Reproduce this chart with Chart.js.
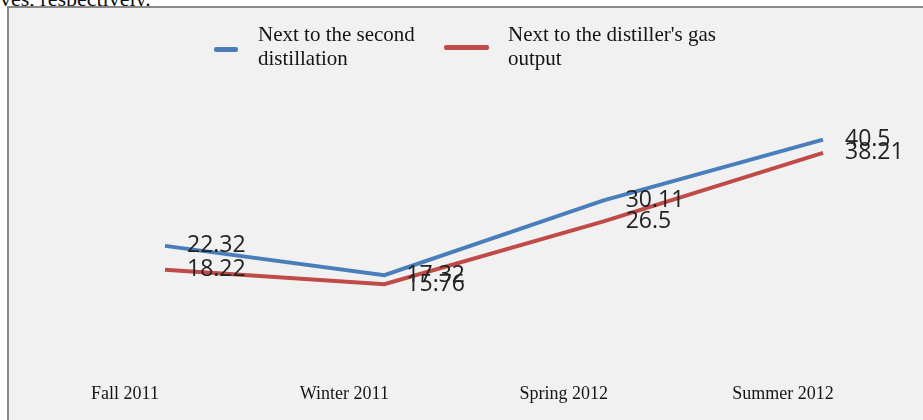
<!DOCTYPE html>
<html lang="en">
<head>
    <meta charset="UTF-8">
    <title>Distillation Chart</title>
    <script src="https://cdn.jsdelivr.net/npm/chart.js"></script>
    <style>
        html, body {
            margin: 0;
            width: 923px;
            height: 420px;
            overflow: hidden;
            background-color: #ffffff;
            position: relative;
        }
        #caption {
            position: absolute;
            left: 0;
            top: -14px;
            font-family: 'Liberation Serif', serif;
            font-size: 22px;
            color: #111;
            white-space: nowrap;
        }
        #frame {
            position: absolute;
            left: 7px;
            top: 6px;
            width: 916px;
            height: 414px;
            background-color: #f1f1f1;
            border-left: 2px solid #8a8a8a;
            border-top: 2px solid #8a8a8a;
        }
        #chart {
            position: absolute;
            left: 0;
            top: 0;
        }
        .legend-item {
            position: absolute;
            font-family: 'Liberation Serif', serif;
            font-size: 21px;
            line-height: 24px;
            color: #151515;
        }
        .legend-swatch {
            position: absolute;
            height: 5px;
            border-radius: 2px;
        }
    </style>
</head>
<body>

<div id="caption">ves, respectively.</div>
<div id="frame"></div>
<canvas id="chart" width="923" height="420"></canvas>
<div id="legend"></div>

<script>
const seasons = ['Fall 2011', 'Winter 2011', 'Spring 2012', 'Summer 2012'];
const secondDistillation = [22.32, 17.32, 30.11, 40.5];
const distillerGasOutput = [18.22, 15.76, 26.5, 38.21];
const seriesNames = [
    ['Next to the second', 'distillation'],
    ["Next to the distiller's gas", 'output']
];
const seriesColors = ['#4a7ebb', '#be4b48'];

// value labels to the right of each point
const pointLabels = {
    id: 'pointLabels',
    afterDatasetsDraw(chart) {
        const ctx = chart.ctx;
        ctx.save();
        ctx.font = '23px "Open Sans", sans-serif';
        ctx.fillStyle = '#222';
        ctx.textAlign = 'left';
        ctx.textBaseline = 'middle';
        chart.data.datasets.forEach((ds, i) => {
            chart.getDatasetMeta(i).data.forEach((pt, j) => {
                ctx.fillText(String(ds.data[j]), pt.x + 22, pt.y);
            });
        });
        ctx.restore();
    }
};

const chart = new Chart(document.getElementById('chart'), {
    type: 'line',
    data: {
        labels: seasons,
        datasets: [
            {
                label: seriesNames[0].join(' '),
                data: secondDistillation,
                borderColor: seriesColors[0],
                borderWidth: 4,
                pointRadius: 0,
                tension: 0
            },
            {
                label: seriesNames[1].join(' '),
                data: distillerGasOutput,
                borderColor: seriesColors[1],
                borderWidth: 4,
                pointRadius: 0,
                tension: 0
            }
        ]
    },
    options: {
        responsive: false,
        animation: false,
        devicePixelRatio: 1,
        layout: {
            padding: { left: 165, right: 100, top: 84, bottom: 8 }
        },
        plugins: {
            legend: { display: false },
            tooltip: { enabled: false }
        },
        scales: {
            x: {
                offset: false,
                grid: { display: false, drawTicks: false },
                border: { display: false },
                ticks: {
                    padding: 7,
                    labelOffset: -40,
                    maxRotation: 0,
                    color: '#151515',
                    font: { family: 'Liberation Serif', size: 18 }
                }
            },
            y: {
                display: false,
                min: 0,
                max: 50
            }
        }
    },
    plugins: [pointLabels]
});

// two-line legend above the plot
const legend = document.getElementById('legend');
const legendPos = [
    { swatchX: 214, swatchW: 24, swatchY: 47, textX: 258 },
    { swatchX: 444, swatchW: 45, swatchY: 45, textX: 508 }
];
seriesNames.forEach((lines, i) => {
    const sw = document.createElement('div');
    sw.className = 'legend-swatch';
    sw.style.left = legendPos[i].swatchX + 'px';
    sw.style.top = legendPos[i].swatchY + 'px';
    sw.style.width = legendPos[i].swatchW + 'px';
    sw.style.backgroundColor = seriesColors[i];
    legend.appendChild(sw);

    const txt = document.createElement('div');
    txt.className = 'legend-item';
    txt.style.left = legendPos[i].textX + 'px';
    txt.style.top = '22px';
    txt.innerHTML = lines.join('<br>');
    legend.appendChild(txt);
});
</script>

</body>
</html>
